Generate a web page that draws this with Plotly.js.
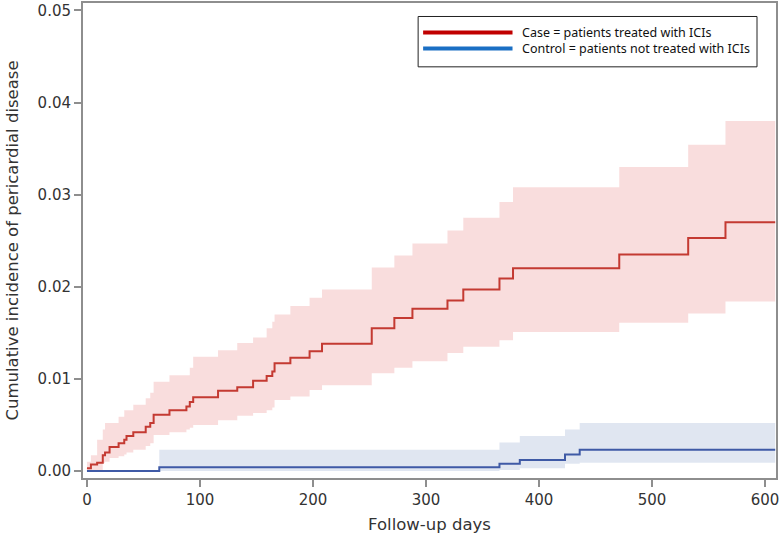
<!DOCTYPE html>
<html>
<head>
<meta charset="utf-8">
<script src="https://cdn.plot.ly/plotly-3.0.1.min.js"></script>
<style>html,body{margin:0;padding:0;background:#fff}#chart{width:780px;height:540px}</style>
</head>
<body>
<div id="chart"></div>
<script>
// ---- Case: patients treated with ICIs ----
const caseDays  = [0, 3.5, 9, 14, 16, 20, 28, 33, 35, 41, 52, 56, 59, 73, 88, 91, 94, 116, 133, 147, 159, 164, 166, 180, 197, 208, 252, 272, 288, 319, 333, 365, 377, 471, 532, 565, 609];
const caseEst   = [0.0003, 0.0007, 0.0009, 0.0017, 0.0020, 0.0026, 0.0030, 0.0034, 0.0038, 0.0042, 0.0048, 0.0052, 0.0061, 0.0066, 0.0070, 0.0075, 0.0080, 0.0087, 0.0091, 0.0098, 0.0103, 0.0108, 0.0117, 0.0123, 0.0130, 0.0138, 0.0155, 0.0166, 0.0176, 0.0185, 0.0197, 0.0209, 0.0220, 0.0235, 0.0253, 0.0270, 0.0270];
const caseLower = [0.0000, 0.0000, 0.0001, 0.0009, 0.0010, 0.0014, 0.0016, 0.0018, 0.0020, 0.0023, 0.0027, 0.0030, 0.0039, 0.0042, 0.0045, 0.0047, 0.0050, 0.0055, 0.0060, 0.0063, 0.0066, 0.0069, 0.0077, 0.0081, 0.0088, 0.0093, 0.0106, 0.0112, 0.0119, 0.0128, 0.0135, 0.0142, 0.0151, 0.0161, 0.0171, 0.0184, 0.0184];
const caseUpper = [0.0010, 0.0017, 0.0034, 0.0045, 0.0052, 0.0052, 0.0059, 0.0066, 0.0066, 0.0072, 0.0079, 0.0085, 0.0097, 0.0104, 0.0104, 0.0112, 0.0124, 0.0131, 0.0139, 0.0145, 0.0155, 0.0162, 0.0170, 0.0179, 0.0188, 0.0197, 0.0221, 0.0234, 0.0247, 0.0261, 0.0275, 0.0292, 0.0308, 0.0330, 0.0354, 0.0380, 0.0380];

// ---- Control: patients not treated with ICIs ----
const ctrlDays  = [0, 64, 365, 383, 423, 436, 609];
const ctrlEst   = [0.0000, 0.0004, 0.0008, 0.0012, 0.0018, 0.0023, 0.0023];
const ctrlLower = [0.0000, 0.0000, 0.0001, 0.0003, 0.0008, 0.0009, 0.0009];
const ctrlUpper = [0.0000, 0.0023, 0.0031, 0.0038, 0.0045, 0.0052, 0.0052];

// ---- Labels ----
const legendLabels = ["Case = patients treated with ICIs", "Control = patients not treated with ICIs"];
const xTitle = "Follow-up days";
const yTitle = "Cumulative incidence of pericardial disease";
const xTicks = [0, 100, 200, 300, 400, 500, 600];
const yTicks = [0, 0.01, 0.02, 0.03, 0.04, 0.05];

const caseLineColor = "#c43a32", caseBandColor = "rgba(247,208,208,0.72)";
const ctrlLineColor = "#3f5aa6", ctrlBandColor = "rgba(214,221,236,0.75)";
const legendCaseColor = "#c00000", legendCtrlColor = "#1a6fc4";

const traces = [
  {x: caseDays, y: caseLower, mode: "lines", line: {shape: "hv", width: 0, color: "rgba(0,0,0,0)"}, hoverinfo: "skip", showlegend: false},
  {x: caseDays, y: caseUpper, mode: "lines", line: {shape: "hv", width: 0, color: "rgba(0,0,0,0)"}, fill: "tonexty", fillcolor: caseBandColor, hoverinfo: "skip", showlegend: false},
  {x: ctrlDays, y: ctrlLower, mode: "lines", line: {shape: "hv", width: 0, color: "rgba(0,0,0,0)"}, hoverinfo: "skip", showlegend: false},
  {x: ctrlDays, y: ctrlUpper, mode: "lines", line: {shape: "hv", width: 0, color: "rgba(0,0,0,0)"}, fill: "tonexty", fillcolor: ctrlBandColor, hoverinfo: "skip", showlegend: false},
  {x: ctrlDays, y: ctrlEst, mode: "lines", name: legendLabels[1], line: {shape: "hv", width: 2, color: ctrlLineColor}, showlegend: false},
  {x: caseDays, y: caseEst, mode: "lines", name: legendLabels[0], line: {shape: "hv", width: 2, color: caseLineColor}, showlegend: false}
];

const axisColor = "#8e8e8e";
const tickFamily = "DejaVu Sans, Verdana, sans-serif";
const layout = {
  width: 780, height: 540,
  margin: {l: 83, r: 4, t: 3, b: 62},
  paper_bgcolor: "#fff", plot_bgcolor: "#fff",
  font: {family: tickFamily, color: "#333"},
  showlegend: false,
  xaxis: {
    range: [-3.5, 609.7], tickvals: xTicks, ticktext: xTicks.map(String),
    showgrid: false, zeroline: false, showline: true, linecolor: axisColor, linewidth: 2, mirror: true,
    ticks: "outside", ticklen: 7, tickwidth: 2, tickcolor: axisColor,
    tickfont: {family: tickFamily, size: 15, color: "#333"},
    title: {text: xTitle, font: {family: tickFamily, size: 16.5, color: "#333"}, standoff: 10}
  },
  yaxis: {
    range: [-0.00076, 0.0508], tickvals: yTicks, ticktext: yTicks.map(v => v.toFixed(2)),
    showgrid: false, zeroline: false, showline: true, linecolor: axisColor, linewidth: 2, mirror: true,
    ticks: "outside", ticklen: 7, tickwidth: 2, tickcolor: axisColor,
    tickfont: {family: tickFamily, size: 15, color: "#333"},
    title: {text: yTitle, font: {family: tickFamily, size: 16.5, color: "#333"}, standoff: 15}
  },
  shapes: [
    {type: "rect", xref: "paper", yref: "paper", x0: 0.4836, x1: 0.9726, y0: 0.8656, y1: 0.9716, line: {color: "#222", width: 1}, fillcolor: "#fff"},
    {type: "line", xref: "paper", yref: "paper", x0: 0.4908, x1: 0.6198, y0: 0.9379, y1: 0.9379, line: {color: legendCaseColor, width: 4}},
    {type: "line", xref: "paper", yref: "paper", x0: 0.4908, x1: 0.6198, y0: 0.9042, y1: 0.9042, line: {color: legendCtrlColor, width: 4}}
  ],
  annotations: [
    {xref: "paper", yref: "paper", x: 0.6300, y: 0.9379, xanchor: "left", yanchor: "middle", text: legendLabels[0], showarrow: false, font: {family: "Noto Sans, sans-serif", size: 12.5, color: "#111"}},
    {xref: "paper", yref: "paper", x: 0.6300, y: 0.9042, xanchor: "left", yanchor: "middle", text: legendLabels[1], showarrow: false, font: {family: "Noto Sans, sans-serif", size: 12.5, color: "#111"}}
  ]
};

Plotly.newPlot("chart", traces, layout, {displayModeBar: false, staticPlot: true});
</script>
</body>
</html>
